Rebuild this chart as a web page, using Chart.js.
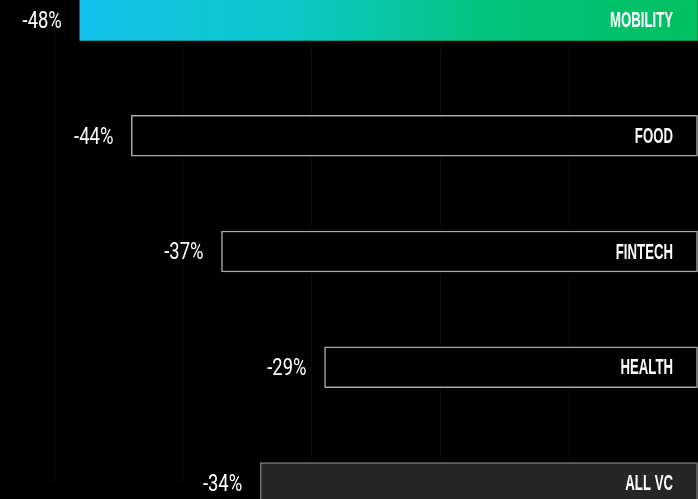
<!DOCTYPE html>
<html>
<head>
<meta charset="utf-8">
<script src="https://cdn.jsdelivr.net/npm/chart.js@4/dist/chart.umd.min.js"></script>
<style>
  html, body { margin: 0; padding: 0; background: #000; }
  #wrap { width: 698px; height: 499px; }
</style>
</head>
<body>
<div id="wrap"><canvas id="vcChart"></canvas></div>
<script>
// funding change by sector, %
const sectors = ['MOBILITY', 'FOOD', 'FINTECH', 'HEALTH', 'ALL VC'];
const changes = [-48, -44, -37, -29, -34];
const valueLabels = ['-48%', '-44%', '-37%', '-29%', '-34%'];

const fills = [null, '#000000', '#000000', '#000000', '#262626'];
const edges = [null, '#a8a8a8', '#a8a8a8', '#a8a8a8', '#7a7a7a'];

function barFill(c) {
  const i = c.dataIndex;
  if (i !== 0) return fills[i];
  const chart = c.chart;
  if (!chart.chartArea) return '#00c0a0';
  const xs = chart.scales.x;
  const g = chart.ctx.createLinearGradient(xs.getPixelForValue(changes[0]), 0, xs.right, 0);
  g.addColorStop(0, '#12c2ec');
  g.addColorStop(0.35, '#0cc8c8');
  g.addColorStop(0.65, '#02c47e');
  g.addColorStop(1, '#00c060');
  return g;
}

// draws text squeezed horizontally (condensed look)
function squeezed(ctx, text, x, y, sx) {
  ctx.save();
  ctx.translate(x, y);
  ctx.scale(sx, 1);
  ctx.fillText(text, 0, 0);
  ctx.restore();
}

// percent on the left of each bar, sector name inside on the right
const barLabels = {
  id: 'barLabels',
  afterDatasetsDraw(chart) {
    const ctx = chart.ctx;
    const xs = chart.scales.x;
    const ys = chart.scales.y;
    ctx.save();
    ctx.fillStyle = '#ffffff';
    ctx.textBaseline = 'middle';
    ctx.textAlign = 'right';
    changes.forEach((v, i) => {
      const y = ys.getPixelForValue(i);
      const left = xs.getPixelForValue(v);
      ctx.font = '23px Roboto, "Liberation Sans", sans-serif';
      squeezed(ctx, valueLabels[i], left - 18, y + 2, 0.8);

      ctx.font = 'bold 22px "Liberation Sans", Roboto, sans-serif';
      squeezed(ctx, sectors[i], 673, y + 1, 0.6);
    });
    ctx.restore();
  }
};

new Chart(document.getElementById('vcChart'), {
  type: 'bar',
  data: {
    labels: sectors,
    datasets: [{
      data: changes,
      backgroundColor: barFill,
      borderColor: (c) => edges[c.dataIndex] || 'rgba(0,0,0,0)',
      borderWidth: (c) => c.dataIndex === 0 ? 0 : 1.5,
      borderSkipped: false,
      barThickness: 41,
      clip: false
    }]
  },
  options: {
    indexAxis: 'y',
    responsive: true,
    maintainAspectRatio: false,
    animation: false,
    layout: { padding: { top: 20, bottom: 16, left: 0, right: 0 } },
    plugins: {
      legend: { display: false },
      tooltip: { enabled: false }
    },
    scales: {
      x: {
        min: -54.2,
        max: 0,
        ticks: { display: false, stepSize: 10 },
        grid: {
          color: (c) => c.tick && c.tick.value % 10 === 0 ? '#0b0b0b' : 'rgba(0,0,0,0)',
          drawTicks: false
        },
        border: { display: false }
      },
      y: {
        offset: false,
        display: false
      }
    }
  },
  plugins: [barLabels]
});
</script>
</body>
</html>
